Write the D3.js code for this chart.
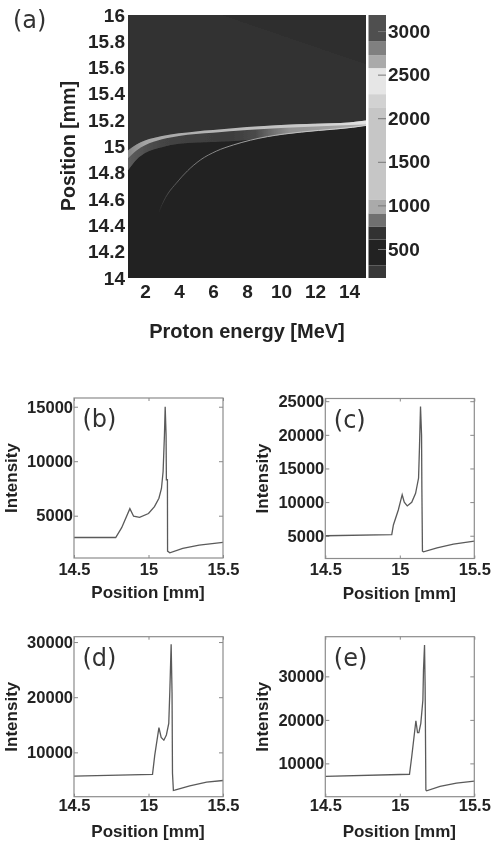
<!DOCTYPE html>
<html>
<head>
<meta charset="utf-8">
<script src="https://cdnjs.cloudflare.com/ajax/libs/d3/7.8.5/d3.min.js"></script>
<style>
  html, body { margin: 0; padding: 0; background: #fff; }
  text { font-family: "Liberation Sans", Arial, sans-serif; font-weight: bold; fill: #222; }
  .tag { font-family: "DejaVu Sans", sans-serif; font-weight: normal; fill: #333; }
</style>
</head>
<body>
<script>
// heatmap (a): curves, energy in MeV, position in mm
const energy     = [1, 1.5, 2, 3, 4, 5, 6, 8, 10, 12, 14, 15]
const ridgeTop   = [14.97, 15.015, 15.045, 15.08, 15.1, 15.115, 15.125, 15.148, 15.163, 15.173, 15.183, 15.198]
const ridgeLow   = [14.91, 14.97, 15.01, 15.055, 15.08, 15.095, 15.105, 15.125, 15.14, 15.152, 15.163, 15.168]
const glowLow    = [14.82, 14.9, 14.95, 14.995, 15.02, 15.03, 15.035, 15.05, 15.09, 15.118, 15.14, 15.16]

const causticE   = [2.8, 3.2, 3.9, 4.5, 5.25, 6.2, 7.2, 8.2, 9.2, 10.2, 11.2, 12.2, 13.2, 14.2, 15]
const causticPos = [14.5, 14.61, 14.73, 14.815, 14.897, 14.965, 15.012, 15.048, 15.075, 15.095, 15.11, 15.122, 15.133, 15.146, 15.16]

const darkCornerE   = [6.6, 15]
const darkCornerPos = [16, 15.63]

const ridgeStops   = [[1, '#858585'], [2, '#a4a4a4'], [4, '#acacac'], [8, '#bcbcbc'], [12, '#cccccc'], [15, '#e4e4e4']]
const glowStops    = [[1, '#5c5c5c'], [3, '#444444'], [7, '#3c3c3c'], [8.5, '#4a4a4a'], [9.5, '#707070'], [10.5, '#909090'], [13, '#a0a0a0'], [15, '#b0b0b0']]
const causticStops = [[2.8, '#262626'], [3.5, '#555555'], [5, '#777777'], [8, '#a0a0a0'], [12, '#c8c8c8'], [15, '#d8d8d8']]

// colour bar: band limits and their greys
const barLimits = [167, 310, 609, 759, 908, 1069, 2126, 2276, 2575, 2724, 2885, 3184]
const barColors = ['#383838', '#222222', '#333333', '#707070', '#aaaaaa', '#c6c6c6', '#d2d2d2', '#e6e6e6', '#aaaaaa', '#808080', '#505050']
const barTicks  = [500, 1000, 1500, 2000, 2500, 3000]

// line panels
const tagB = '(b)'
const xB = [14.5, 14.78, 14.82, 14.875, 14.9, 14.94, 15, 15.04, 15.07, 15.087, 15.098, 15.107, 15.112, 15.118, 15.12, 15.127, 15.128, 15.143, 15.23, 15.34, 15.5]
const yB = [3000, 3000, 3900, 5650, 4950, 4850, 5200, 5830, 6600, 7500, 9050, 12400, 15000, 12400, 8300, 8300, 1750, 1600, 2000, 2300, 2550]
const ticksB = [5000, 10000, 15000]

const tagC = '(c)'
const xC = [14.5, 14.946, 14.957, 14.99, 15.016, 15.03, 15.05, 15.08, 15.106, 15.126, 15.132, 15.139, 15.146, 15.148, 15.152, 15.159, 15.25, 15.36, 15.5]
const yC = [5000, 5150, 6600, 8830, 11100, 9980, 9430, 9980, 11300, 13580, 18100, 24200, 20000, 12400, 2700, 2600, 3200, 3750, 4200]
const ticksC = [5000, 10000, 15000, 20000, 25000]

const tagD = '(d)'
const xD = [14.5, 15.027, 15.042, 15.07, 15.085, 15.103, 15.12, 15.136, 15.143, 15.152, 15.158, 15.161, 15.167, 15.176, 15.277, 15.39, 15.5]
const yD = [5700, 6000, 9500, 14500, 12700, 12200, 13150, 15240, 21000, 29600, 20700, 6200, 3090, 3150, 3930, 4600, 4900]
const ticksD = [10000, 20000, 30000]

const tagE = '(e)'
const xE = [14.5, 15.065, 15.08, 15.108, 15.119, 15.128, 15.141, 15.155, 15.159, 15.166, 15.17, 15.175, 15.18, 15.27, 15.38, 15.5]
const yE = [7000, 7500, 11530, 19800, 17050, 17050, 19200, 24560, 31450, 37200, 27600, 3870, 3700, 4700, 5450, 5900]
const ticksE = [10000, 20000, 30000]

const w = 497
const h = 841

const svg = d3.select('body')
              .append('svg')
              .attr('width', w)
              .attr('height', h)
              .style('display', 'block')

const defs = svg.append('defs')

// the reference is a soft scan, so everything gets a slight blur
const soft = defs.append('filter').attr('id', 'soft')
soft.append('feGaussianBlur').attr('stdDeviation', 0.45)
const softer = defs.append('filter').attr('id', 'softer')
                   .attr('x', '-5%').attr('y', '-5%').attr('width', '110%').attr('height', '110%')
softer.append('feGaussianBlur').attr('stdDeviation', 0.5)

const root = svg.append('g').attr('filter', 'url(#soft)')

function cleanAxis(g, color) {
  g.select('.domain').remove()
  g.selectAll('.tick line').attr('stroke', color)
  g.selectAll('.tick text').attr('fill', null)
}

function drawHeatmap() {
  const left = 128, right = 366, top = 15, bottom = 278

  const xScale = d3.scaleLinear().domain([1, 15]).range([left, right])
  const yScale = d3.scaleLinear().domain([14, 16]).range([bottom, top])

  const gradient = (id, stops) => {
    const g = defs.append('linearGradient')
                  .attr('id', id)
                  .attr('gradientUnits', 'userSpaceOnUse')
                  .attr('x1', left).attr('x2', right)
                  .attr('y1', 0).attr('y2', 0)
    g.selectAll('stop')
     .data(stops)
     .enter()
     .append('stop')
     .attr('offset', d => (xScale(d[0]) - left) / (right - left))
     .attr('stop-color', d => d[1])
  }
  gradient('ridgeFill', ridgeStops)
  gradient('glowFill', glowStops)
  gradient('causticFill', causticStops)

  defs.append('clipPath').attr('id', 'mapClip')
      .append('rect')
      .attr('x', left).attr('y', top)
      .attr('width', right - left).attr('height', bottom - top)

  const map = root.append('g')
                  .attr('clip-path', 'url(#mapClip)')

  const maps = map.append('g').attr('filter', 'url(#softer)')

  // upper background, everything below the ridge is painted over it
  maps.append('rect')
      .attr('x', left).attr('y', yScale(16))
      .attr('width', right - left)
      .attr('height', yScale(14) - yScale(16))
      .attr('fill', '#303030')

  const band = (topVals, lowVals) => d3.area()
    .x((d, i) => xScale(energy[i]))
    .y0((d, i) => yScale(lowVals[i]))
    .y1((d, i) => yScale(topVals[i]))
    .curve(d3.curveMonotoneX)(energy)

  // slightly darker wedge in the upper right
  const corner = darkCornerE.map((e, i) => [e, darkCornerPos[i]])
  maps.append('path')
      .attr('d', d3.area()
        .x(d => xScale(d[0]))
        .y0(d => yScale(d[1]))
        .y1(yScale(16))(corner))
      .attr('fill', '#2e2e2e')

  // lower background
  maps.append('path')
      .attr('d', band(glowLow, energy.map(() => 14)))
      .attr('fill', '#222222')

  maps.append('path')
      .attr('d', band(ridgeTop, glowLow))
      .attr('fill', 'url(#glowFill)')

  maps.append('path')
      .attr('d', band(ridgeTop, ridgeLow))
      .attr('fill', 'url(#ridgeFill)')

  maps.append('path')
      .attr('d', d3.line()
        .x((d, i) => xScale(causticE[i]))
        .y((d, i) => yScale(causticPos[i]))
        .curve(d3.curveMonotoneX)(causticE))
      .attr('fill', 'none')
      .attr('stroke', 'url(#causticFill)')
      .attr('stroke-width', 1)

  const xAxis = root.append('g')
                    .attr('transform', 'translate(0, ' + (bottom + 3) + ')')
                    .style('font-size', '19px')
                    .call(d3.axisBottom(xScale).tickValues([2, 4, 6, 8, 10, 12, 14]).tickSize(0).tickPadding(3.5))
  cleanAxis(xAxis, 'none')

  const yAxis = root.append('g')
                    .attr('transform', 'translate(' + (left - 3) + ', 0)')
                    .style('font-size', '19px')
                    .call(d3.axisLeft(yScale).tickValues(d3.range(14, 16.01, 0.2)).tickFormat(d3.format('~g')).tickSize(0).tickPadding(0))
  cleanAxis(yAxis, 'none')

  root.append('text')
      .attr('transform', 'translate(75, 146) rotate(-90)')
      .attr('text-anchor', 'middle')
      .style('font-size', '19.5px')
      .text('Position [mm]')

  root.append('text')
      .attr('x', 247)
      .attr('y', 338)
      .attr('text-anchor', 'middle')
      .style('font-size', '20px')
      .text('Proton energy [MeV]')

  root.append('text')
      .attr('class', 'tag')
      .attr('x', 13)
      .attr('y', 28)
      .style('font-size', '24px')
      .text('(a)')

  // colour bar
  const barLeft = 368.5, barRight = 386
  const barScale = d3.scaleLinear().domain([167, 3184]).range([bottom, top])

  root.append('g')
      .selectAll('rect')
      .data(barColors)
      .enter()
      .append('rect')
      .attr('x', barLeft)
      .attr('y', (d, i) => barScale(barLimits[i + 1]))
      .attr('width', barRight - barLeft)
      .attr('height', (d, i) => barScale(barLimits[i]) - barScale(barLimits[i + 1]))
      .attr('fill', d => d)

  const barAxis = root.append('g')
                      .attr('transform', 'translate(' + barRight + ', 0)')
                      .call(d3.axisLeft(barScale).tickValues(barTicks).tickSize(8).tickFormat(''))
  cleanAxis(barAxis, '#777')

  const barLabels = root.append('g')
                        .attr('transform', 'translate(' + (barRight + 2) + ', 0)')
                        .style('font-size', '19px')
                        .call(d3.axisRight(barScale).tickValues(barTicks).tickSize(0).tickPadding(0).tickFormat(d3.format('d')))
  cleanAxis(barLabels, 'none')
}

function drawPanel(tag, xs, ys, ticks, domain, left, top, labelGap) {
  const width = 149
  const height = 160

  const xScale = d3.scaleLinear().domain([14.5, 15.5]).range([left, left + width])
  const yScale = d3.scaleLinear().domain(domain).range([top + height, top])

  const panel = root.append('g')

  const xInner = panel.append('g')
                      .attr('transform', 'translate(0, ' + (top + height) + ')')
                      .call(d3.axisBottom(xScale).tickValues([14.5, 15, 15.5]).tickSize(-3).tickFormat(''))
  cleanAxis(xInner, '#888')
  const xTop = panel.append('g')
                    .attr('transform', 'translate(0, ' + top + ')')
                    .call(d3.axisBottom(xScale).tickValues([14.5, 15, 15.5]).tickSize(3).tickFormat(''))
  cleanAxis(xTop, '#888')
  const yInner = panel.append('g')
                      .attr('transform', 'translate(' + left + ', 0)')
                      .call(d3.axisRight(yScale).tickValues(ticks).tickSize(4).tickFormat(''))
  cleanAxis(yInner, '#888')
  const yRight = panel.append('g')
                      .attr('transform', 'translate(' + (left + width) + ', 0)')
                      .call(d3.axisLeft(yScale).tickValues(ticks).tickSize(4).tickFormat(''))
  cleanAxis(yRight, '#888')

  panel.append('path')
       .attr('d', d3.line()
         .x((d, i) => xScale(xs[i]))
         .y(d => yScale(d))(ys))
       .attr('fill', 'none')
       .attr('stroke', '#5a5a5a')
       .attr('stroke-width', 1.3)

  panel.append('rect')
       .attr('x', left)
       .attr('y', top)
       .attr('width', width)
       .attr('height', height)
       .attr('fill', 'none')
       .attr('stroke', '#8c8c8c')
       .attr('stroke-width', 1.2)

  const xLabels = panel.append('g')
                       .attr('transform', 'translate(0, ' + (top + height) + ')')
                       .style('font-size', '16.5px')
                       .call(d3.axisBottom(xScale).tickValues([14.5, 15, 15.5]).tickSize(0).tickPadding(labelGap).tickFormat(d3.format('~g')))
  cleanAxis(xLabels, 'none')

  const yLabels = panel.append('g')
                       .attr('transform', 'translate(' + (left - 1) + ', 0)')
                       .style('font-size', '16.5px')
                       .call(d3.axisLeft(yScale).tickValues(ticks).tickSize(0).tickPadding(0).tickFormat(d3.format('d')))
  cleanAxis(yLabels, 'none')

  panel.append('text')
       .attr('x', left + width / 2 - 0.5)
       .attr('y', top + height + 40)
       .attr('text-anchor', 'middle')
       .style('font-size', '17px')
       .text('Position [mm]')

  panel.append('text')
       .attr('transform', 'translate(' + (left - 57) + ', ' + (top + 80) + ') rotate(-90)')
       .attr('text-anchor', 'middle')
       .style('font-size', '17px')
       .text('Intensity')

  panel.append('text')
       .attr('class', 'tag')
       .attr('x', left + 8.5)
       .attr('y', top + 29)
       .style('font-size', '24px')
       .text(tag)
}

drawHeatmap()
drawPanel(tagB, xB, yB, ticksB, [1120, 15800], 74, 398, 5)
drawPanel(tagC, xC, yC, ticksC, [1617, 25400], 325.3, 398.5, 5)
drawPanel(tagD, xD, yD, ticksD, [1964, 30970], 74, 636.7, 3)
drawPanel(tagE, xE, yE, ticksE, [2340, 39120], 325.3, 636.7, 3)
</script>
</body>
</html>
